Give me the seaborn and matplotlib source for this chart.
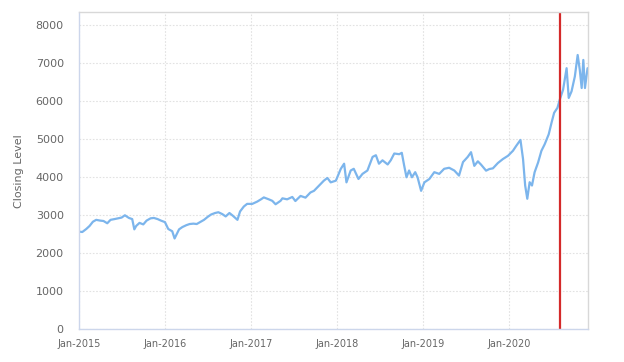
import pandas as pd
import matplotlib
matplotlib.use("Agg")
import matplotlib.pyplot as plt
import matplotlib.dates as mdates
import seaborn as sns

# closing levels
dates = [
    "2015-01-01", "2015-01-15", "2015-02-01", "2015-02-15", "2015-03-01", "2015-03-15",
    "2015-04-01", "2015-04-15", "2015-05-01", "2015-05-15", "2015-06-01", "2015-06-15",
    "2015-07-01", "2015-07-15", "2015-08-01", "2015-08-15", "2015-08-24", "2015-09-01",
    "2015-09-15", "2015-10-01", "2015-10-15", "2015-11-01", "2015-11-15", "2015-12-01",
    "2015-12-15",
    "2016-01-01", "2016-01-15", "2016-02-01", "2016-02-11", "2016-03-01", "2016-03-15",
    "2016-04-01", "2016-04-15", "2016-05-01", "2016-05-15", "2016-06-01", "2016-06-15",
    "2016-07-01", "2016-07-15", "2016-08-01", "2016-08-15", "2016-09-01", "2016-09-15",
    "2016-10-01", "2016-10-15", "2016-11-04", "2016-11-15", "2016-12-01", "2016-12-15",
    "2017-01-06", "2017-01-27", "2017-02-12", "2017-02-24", "2017-03-17", "2017-04-01",
    "2017-04-15", "2017-05-06", "2017-05-14", "2017-06-03", "2017-06-25", "2017-07-08",
    "2017-07-30", "2017-08-20", "2017-09-10", "2017-09-25", "2017-10-16", "2017-11-06",
    "2017-11-21", "2017-12-05", "2017-12-27",
    "2018-01-17", "2018-01-31", "2018-02-10", "2018-02-28", "2018-03-13", "2018-04-02",
    "2018-04-19", "2018-05-10", "2018-06-01", "2018-06-15", "2018-06-28", "2018-07-13",
    "2018-08-04", "2018-08-17", "2018-09-01", "2018-09-22", "2018-10-03", "2018-10-13",
    "2018-10-23", "2018-11-03", "2018-11-15", "2018-11-29", "2018-12-09", "2018-12-24",
    "2019-01-07", "2019-01-28", "2019-02-18", "2019-03-11", "2019-04-01", "2019-04-22",
    "2019-05-14", "2019-06-03", "2019-06-20", "2019-07-10", "2019-07-24", "2019-08-07",
    "2019-08-22", "2019-09-05", "2019-09-26", "2019-10-10", "2019-10-25", "2019-11-15",
    "2019-12-06", "2019-12-28",
    "2020-01-18", "2020-02-01", "2020-02-19", "2020-03-01", "2020-03-10", "2020-03-19",
    "2020-03-29", "2020-04-08", "2020-04-19", "2020-05-04", "2020-05-18", "2020-06-01",
    "2020-06-18", "2020-06-30", "2020-07-11", "2020-07-25", "2020-08-04", "2020-08-18",
    "2020-09-02", "2020-09-11", "2020-09-23", "2020-10-07", "2020-10-19", "2020-10-28",
    "2020-11-05", "2020-11-12", "2020-11-19", "2020-11-30",
]
closing = [
    2570, 2560, 2640, 2720, 2830, 2880,
    2860, 2850, 2790, 2880, 2900, 2920,
    2940, 3000, 2930, 2900, 2630, 2720,
    2800, 2760, 2860, 2920, 2930, 2900,
    2860,
    2820, 2640, 2580, 2390, 2630, 2690,
    2740, 2770, 2780, 2770, 2830, 2880,
    2960, 3020, 3060, 3080, 3030, 2970,
    3060, 2990, 2880, 3100, 3230, 3300,
    3300, 3360, 3420, 3470, 3420, 3380,
    3290, 3380, 3446, 3420, 3482, 3375,
    3509, 3464, 3600, 3643, 3777, 3911,
    3982, 3866, 3911,
    4223, 4357, 3866, 4178, 4223, 3955,
    4089, 4178, 4536, 4580, 4357, 4446,
    4337, 4446, 4625, 4607, 4643, 4311,
    4000, 4178, 4000, 4134, 4000, 3643,
    3866, 3955, 4134, 4089, 4223, 4250,
    4178, 4044, 4400, 4536, 4660, 4300,
    4420, 4330, 4174, 4217, 4235, 4374,
    4478, 4565,
    4696, 4826, 4983, 4478, 3783, 3435,
    3870, 3783, 4130, 4391, 4696, 4870,
    5130, 5435, 5696, 5826, 6043, 6304,
    6870, 6087, 6261, 6652, 7217, 6826,
    6348, 7087, 6348, 6870,
]
marker_date = "2020-08-04"
y_ticks = [0, 1000, 2000, 3000, 4000, 5000, 6000, 7000, 8000]

df = pd.DataFrame({"Date": pd.to_datetime(dates), "Close": closing})

sns.set_style("white")
plt.rcParams["font.family"] = ["DejaVu Sans"]

fig = plt.figure(figsize=(6.24, 3.62), dpi=100)
ax = fig.add_axes([0.1266, 0.0903, 0.8150, 0.8757])

sns.lineplot(data=df, x="Date", y="Close", ax=ax, color="#7cb5ec", linewidth=1.6)
ax.axvline(pd.Timestamp(marker_date), color="#d42a2a", linewidth=1.6)

ax.set_xlim(df["Date"].iloc[0], df["Date"].iloc[-1])
ax.set_ylim(0, 8340)
ax.set_yticks(y_ticks)

ax.xaxis.set_major_locator(mdates.YearLocator())
ax.xaxis.set_major_formatter(mdates.DateFormatter("Jan-%Y"))

ax.grid(True, color="#e2e2e2", linestyle=(0, (1.5, 1.5)), linewidth=0.8)
ax.set_axisbelow(True)
for side in ax.spines.values():
    side.set_color("#d8d8d8")
    side.set_linewidth(1)
ax.spines["bottom"].set_color("#ccd6eb")
ax.spines["left"].set_color("#ccd6eb")

ax.tick_params(axis="y", length=0, pad=11, labelsize=8, labelcolor="#666666")
ax.tick_params(axis="x", length=3, color="#ccd6eb", pad=4, labelsize=7, labelcolor="#666666")
ax.set_xlabel("")
ax.set_ylabel("Closing Level", fontsize=8, color="#666666", labelpad=8)

fig.savefig("out.png", dpi=100)
